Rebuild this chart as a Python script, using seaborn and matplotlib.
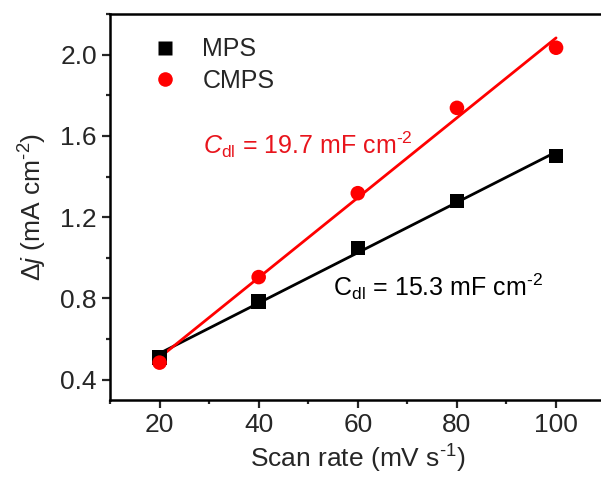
import numpy as np
import pandas as pd
import matplotlib
matplotlib.use("Agg")
import matplotlib.pyplot as plt
import seaborn as sns
from matplotlib.ticker import MultipleLocator

scan_rate = [20, 40, 60, 80, 100]
mps = [0.510, 0.786, 1.048, 1.280, 1.502]
cmps = [0.484, 0.905, 1.318, 1.738, 2.034]
colors = {"MPS": "black", "CMPS": "#ff0000"}
markers = {"MPS": "s", "CMPS": "o"}
label_mps = r"$\mathrm{C}_{\rm dl}$ = 15.3 mF cm$^{\text{-2}}$"
label_cmps = r"$C_{\rm dl}$ = 19.7 mF cm$^{\text{-2}}$"

df = pd.DataFrame({
    "x": scan_rate * 2,
    "y": mps + cmps,
    "sample": ["MPS"] * 5 + ["CMPS"] * 5,
})

sns.set_theme(style="ticks")
plt.rcParams["font.family"] = ["Liberation Sans", "DejaVu Sans"]
plt.rcParams["mathtext.fontset"] = "custom"
plt.rcParams["mathtext.rm"] = "Liberation Sans"
plt.rcParams["mathtext.it"] = "Liberation Sans:italic"
plt.rcParams["mathtext.bf"] = "Liberation Sans:bold"

fs = 19
fig = plt.figure(figsize=(6.01, 4.88), dpi=100)
ax = fig.add_axes([0.183, 0.1803, 1.0077 - 0.183, 0.9713 - 0.1803])

for name, vals in (("MPS", mps), ("CMPS", cmps)):
    sns.regplot(x=scan_rate, y=vals, ax=ax, ci=None, scatter=False,
                color=colors[name], line_kws={"lw": 2.0})

sns.scatterplot(data=df, x="x", y="y", hue="sample", style="sample",
                markers=markers, palette=colors, s=110, edgecolor="none",
                ax=ax, zorder=5)

ax.set_xlim(10, 110)
ax.set_ylim(0.3, 2.2)
ax.set_xticks([20, 40, 60, 80, 100])
ax.set_yticks([0.4, 0.8, 1.2, 1.6, 2.0])
ax.set_yticklabels(["0.4", "0.8", "1.2", "1.6", "2.0"])
ax.xaxis.set_minor_locator(MultipleLocator(10))
ax.yaxis.set_minor_locator(MultipleLocator(0.2))
ax.tick_params(which="major", direction="out", length=5.5, width=1.6, labelsize=fs, pad=4)
ax.tick_params(which="minor", direction="out", length=3.2, width=1.6)
for sp in ax.spines.values():
    sp.set_linewidth(1.8)
    sp.set_color("black")
ax.spines["right"].set_visible(False)

ax.set_xlabel("Scan rate (mV s$^{\\text{-1}}$)", fontsize=fs, labelpad=4)
ax.set_ylabel(r"Δ$j$ (mA cm$^{\text{-2}}$)", fontsize=fs, labelpad=8)

ax.text(28.8, 1.556, label_cmps, color="#e8141c", fontsize=18, va="center", ha="left")
ax.text(55.0, 0.856, label_mps, color="black", fontsize=18, va="center", ha="left")

leg = ax.legend(loc="upper left", bbox_to_anchor=(0.04, 0.998), frameon=False,
                fontsize=18, handlelength=1.0, handletextpad=1.0,
                labelspacing=0.3, markerscale=1.0, title=None)

fig.savefig("out.png", dpi=100)
